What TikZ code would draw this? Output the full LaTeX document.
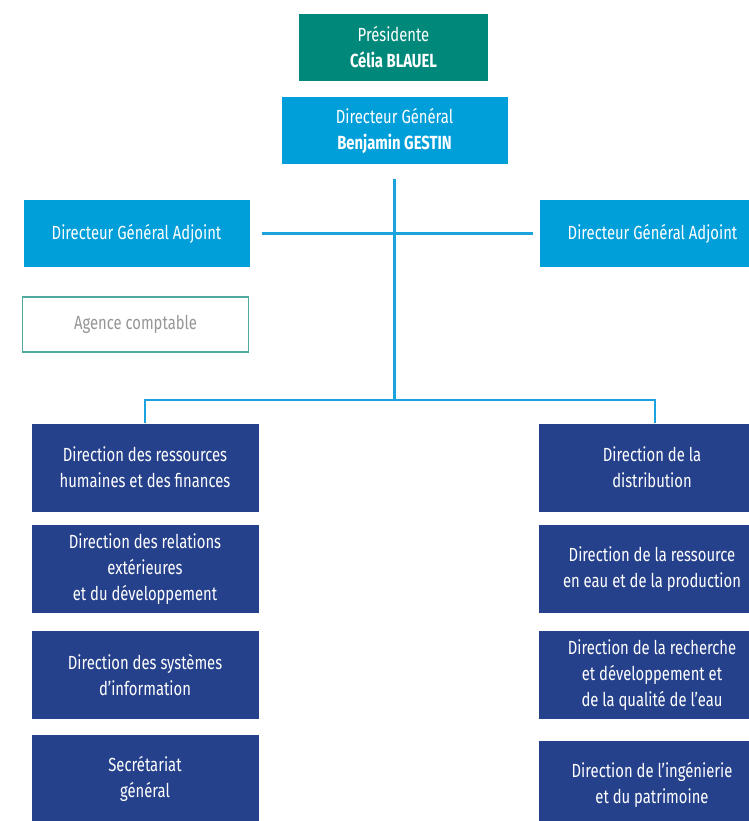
\documentclass[tikz,border=0pt]{standalone}
\usepackage{fontspec}
\setmainfont{Fira Sans}[FakeStretch=0.78]
\usetikzlibrary{positioning}

\definecolor{presgreen}{RGB}{0,137,123}
\definecolor{dgblue}{RGB}{0,159,218}
\definecolor{dirnavy}{RGB}{38,65,140}
\definecolor{linkblue}{RGB}{26,163,221}
\definecolor{agenceteal}{RGB}{80,168,158}
\definecolor{agencegrey}{RGB}{150,150,150}

\begin{document}
\begin{tikzpicture}
  [
  x=1pt, y=-1pt, font=\fontsize{19}{26}\selectfont, text=white,
  conn/.style={draw=linkblue, line width=2.5pt},
  president/.style={rectangle, minimum height=67pt, minimum width=189pt, fill=presgreen, inner sep=0pt, align=center},
  head/.style={rectangle, minimum height=67pt, minimum width=226pt, fill=dgblue, inner sep=0pt, align=center},
  agency/.style={rectangle, minimum height=55pt, minimum width=226pt, draw=agenceteal, line width=1.2pt, text=agencegrey, inner sep=0pt},
  direction/.style={rectangle, minimum height=88pt, minimum width=227pt, fill=dirnavy, inner sep=0pt, align=center}
  ]
\useasboundingbox (0,0) rectangle (748,821);

\node[president] (pres) at (393.5,47.5) {Présidente\\\textbf{Célia BLAUEL}};
\node[head] (dg) at (394.5,130.5) {Directeur Général\\\textbf{Benjamin GESTIN}};

\node[head] (dgal) at (136.5,233.5) {Directeur Général Adjoint};
\node[head] (dgar) at (652.5,233.5) {Directeur Général Adjoint};
\node[agency] (agence) at (135.5,324.5) {Agence comptable};

% directions de gauche
\foreach \i/\y/\t in {1/467.5/{Direction des ressources\\humaines et des finances},
                      2/569/{Direction des relations\\extérieures\\et du développement},
                      3/674.5/{Direction des systèmes\\d’information},
                      4/779/{Secrétariat\\général}} {
  \node[direction] (dl\i) at (145,\y) {\t};
}

% directions de droite
\foreach \i/\y/\t in {1/467.5/{Direction de la\\distribution},
                      2/569/{Direction de la ressource\\en eau et de la production},
                      3/675/{Direction de la recherche\\et développement et\\de la qualité de l’eau},
                      4/785/{Direction de l’ingénierie\\et du patrimoine}} {
  \node[direction] (dr\i) at (652,\y) {\t};
}

\coordinate (hub) at (394.5,400);
\draw[conn, shorten <=15pt] (dg.south) -- (hub);
\draw[conn, shorten <=12pt, shorten >=6pt] (dgal.east) -- (dgar.west);
\draw[conn] (dl1.north) |- (hub) -| ([xshift=3pt]dr1.north);

\end{tikzpicture}
\end{document}
